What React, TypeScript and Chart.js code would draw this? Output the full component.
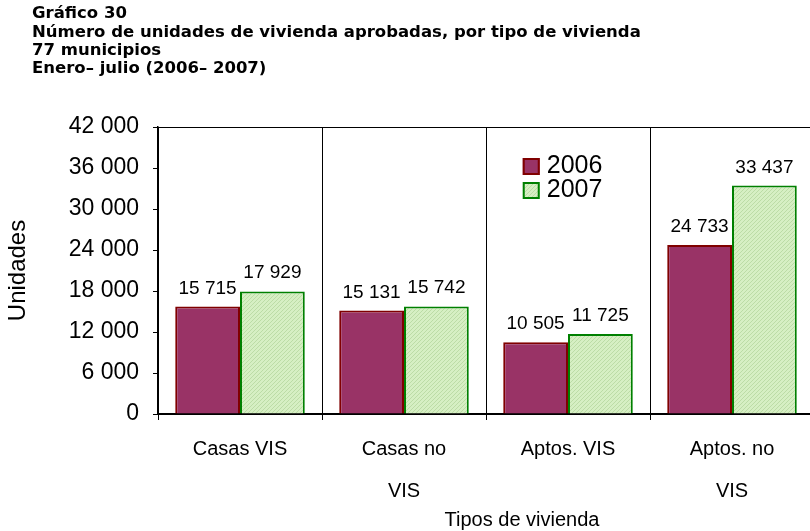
import { useEffect, useRef } from "react";
import { Chart, registerables } from "chart.js";

Chart.register(...registerables);

const titleLines = [
  "Gráfico 30",
  "Número de unidades de vivienda aprobadas, por tipo de vivienda",
  "77 municipios",
  "Enero\u2013 julio (2006\u2013 2007)",
];
const categories = [["Casas VIS"], ["Casas no", "VIS"], ["Aptos. VIS"], ["Aptos. no", "VIS"]];
const seriesLabels = ["2006", "2007"];
const values2006 = [15715, 15131, 10505, 24733];
const values2007 = [17929, 15742, 11725, 33437];
const yMin = 0;
const yMax = 42000;
const yStep = 6000;
const yAxisTitle = "Unidades";
const xAxisTitle = "Tipos de vivienda";

const FONT = "'Liberation Sans', Arial, sans-serif";

function fmt(n: number): string {
  return String(n).replace(/\B(?=(\d{3})+(?!\d))/g, " ");
}

function makePattern(): CanvasPattern | string {
  const c = document.createElement("canvas");
  c.width = 4;
  c.height = 4;
  const g = c.getContext("2d");
  if (!g) return "#d3edbf";
  g.fillStyle = "#d6efc3";
  g.fillRect(0, 0, 4, 4);
  g.fillStyle = "#bcdca6";
  g.fillRect(0, 0, 1, 1);
  g.fillRect(2, 2, 1, 1);
  g.fillRect(1, 3, 1, 1);
  g.fillRect(3, 1, 1, 1);
  const p = g.createPattern(c, "repeat");
  return p || "#d3edbf";
}

const decorPlugin = {
  id: "decor",
  afterDraw(chart: any) {
    const ctx = chart.ctx;
    const area = chart.chartArea;
    ctx.save();
    // top border
    ctx.strokeStyle = "#000";
    ctx.lineWidth = 1;
    ctx.beginPath();
    ctx.moveTo(area.left, area.top + 0.5);
    ctx.lineTo(area.right, area.top + 0.5);
    ctx.stroke();

    // data labels
    ctx.fillStyle = "#000";
    ctx.font = `19px ${FONT}`;
    ctx.textAlign = "center";
    ctx.textBaseline = "alphabetic";
    chart.data.datasets.forEach((ds: any, di: number) => {
      const meta = chart.getDatasetMeta(di);
      meta.data.forEach((el: any, i: number) => {
        ctx.fillText(fmt(ds.data[i]), el.x, el.y - 13);
      });
    });

    // legend
    const lx = area.left + (area.right - area.left) * 0.556;
    let ly = area.top + 31;
    chart.data.datasets.forEach((ds: any) => {
      ctx.fillStyle = ds.backgroundColor;
      ctx.fillRect(lx, ly, 17, 17);
      ctx.strokeStyle = ds.borderColor;
      ctx.lineWidth = 2;
      ctx.strokeRect(lx + 1, ly + 1, 15, 15);
      ctx.fillStyle = "#000";
      ctx.font = `25px ${FONT}`;
      ctx.textAlign = "left";
      ctx.textBaseline = "middle";
      ctx.fillText(ds.label, lx + 24, ly + 8);
      ly += 24;
    });

    // x axis title
    ctx.fillStyle = "#000";
    ctx.font = `20px ${FONT}`;
    ctx.textAlign = "center";
    ctx.textBaseline = "middle";
    ctx.fillText(xAxisTitle, (area.left + area.right) / 2 + 36, 520);

    // chart title
    ctx.font = `bold 16.5px 'DejaVu Sans', Verdana, sans-serif`;
    ctx.textAlign = "left";
    titleLines.forEach((t, i) => {
      ctx.fillText(t, 32, 14 + i * 18.3);
    });
    ctx.restore();
  },
};

export default function App() {
  const ref = useRef<HTMLCanvasElement | null>(null);
  useEffect(() => {
    if (!ref.current) return;
    const pattern = makePattern();
    const chart = new Chart(ref.current, {
      type: "bar",
      data: {
        labels: categories,
        datasets: [
          {
            label: seriesLabels[0],
            data: values2006,
            backgroundColor: "#993366",
            borderColor: "#800000",
            borderWidth: 2,
            categoryPercentage: 0.79,
            barPercentage: 1,
          },
          {
            label: seriesLabels[1],
            data: values2007,
            backgroundColor: pattern as any,
            borderColor: "#008000",
            borderWidth: 2,
            categoryPercentage: 0.79,
            barPercentage: 1,
          },
        ],
      },
      options: {
        animation: false,
        responsive: false,
        layout: { padding: { top: 127, right: 2, left: 0, bottom: 0 } },
        plugins: { legend: { display: false }, tooltip: { enabled: false } },
        scales: {
          x: {
            grid: { offset: true, color: "#000", lineWidth: 1, drawOnChartArea: true, tickLength: 6 },
            border: { color: "#000", width: 2 },
            ticks: { color: "#000", font: { family: FONT, size: 20, lineHeight: 2.1 }, padding: 8, maxRotation: 0 },
            afterFit: (s: any) => {
              s.height = 117;
            },
          },
          y: {
            min: yMin,
            max: yMax,
            ticks: {
              stepSize: yStep,
              color: "#000",
              font: { family: FONT, size: 23 },
              padding: 14,
              callback: (v: any) => fmt(Number(v)),
            },
            grid: { drawOnChartArea: false, drawTicks: true, tickLength: 5, color: "#000" },
            border: { color: "#000", width: 1.5 },
            title: { display: true, text: yAxisTitle, color: "#000", font: { family: FONT, size: 24 }, padding: { top: 4, bottom: 0 } },
            afterFit: (s: any) => {
              s.width = 158;
            },
          },
        },
      },
      plugins: [decorPlugin],
    });
    return () => chart.destroy();
  }, []);
  return (
    <div style={{ position: "absolute", left: 0, top: 0, width: 810, height: 531, overflow: "hidden", background: "#fff" }}>
      <canvas ref={ref} width={816} height={531} style={{ width: 816, height: 531, display: "block" }} />
    </div>
  );
}
